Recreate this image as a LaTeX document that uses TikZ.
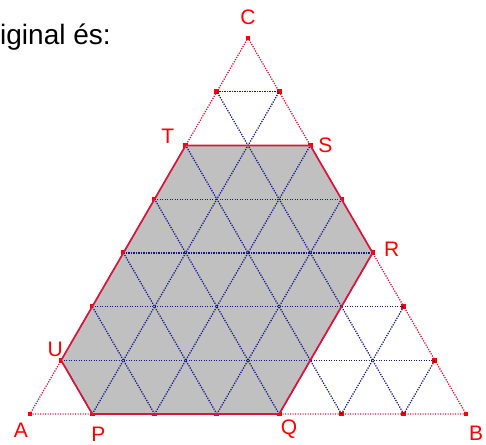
\documentclass[tikz,border=0pt]{standalone}
\usepackage{fontspec}
\setmainfont{Liberation Sans}
\usepackage{xcolor}
\usetikzlibrary{positioning,calc}
\definecolor{linered}{RGB}{220,20,60}
\definecolor{gridblue}{RGB}{20,20,140}
\definecolor{hexgray}{RGB}{192,192,192}
\begin{document}
\begin{tikzpicture}[x=1pt, y=1pt,
  lbl/.style={text=red, inner sep=0pt, font=\fontsize{21}{25}\selectfont},
  pt/.style={rectangle, fill=red, minimum size=4.8pt, inner sep=0pt},
  gridline/.style={gridblue, line width=1.3pt, dash pattern=on 1.2pt off 1.3pt},
  sideline/.style={linered, line width=1.3pt, dash pattern=on 1.2pt off 1.3pt}]
\useasboundingbox (0,0) rectangle (486,444);
% lattice points of the triangle, 7 steps per side
\foreach \j in {0,...,7}{
  \pgfmathtruncatemacro\m{7-\j}
  \foreach \i in {0,...,\m}{
    \coordinate (p\i-\j) at ({30+(\i+\j/2)*62.29},{30+\j*53.71});
  }
}
\coordinate (A) at (p0-0);
\coordinate (B) at (p7-0);
\coordinate (C) at (p0-7);
\coordinate (P) at (p1-0);
\coordinate (Q) at (p4-0);
\coordinate (R) at (p4-3);
\coordinate (S) at (p2-5);
\coordinate (T) at (p0-5);
\coordinate (U) at (p0-1);
% big triangle
\draw[sideline] (A) -- (B) -- (C) -- cycle;
% points on the sides
\foreach \j in {0,...,7}{
  \pgfmathtruncatemacro\m{7-\j}
  \node[pt] (mL\j) at (p0-\j) {};
  \node[pt] (mR\j) at (p\m-\j) {};
}
\foreach \i in {1,...,6}
  \node[pt] (mB\i) at (p\i-0) {};
% hexagon
\fill[hexgray] (P) -- (Q) -- (R) -- (S) -- (T) -- (U) -- cycle;
% grid
\foreach \k in {1,...,6}{
  \pgfmathtruncatemacro\m{7-\k}
  \draw[gridline] (p0-\k) -- (p\m-\k);
  \draw[gridline] (p\k-0) -- (p0-\k);
  \draw[gridline] (p\k-0) -- (p\k-\m);
}
\draw[linered, line width=1.7pt, line join=round] (P) -- (Q) -- (R) -- (S) -- (T) -- (U) -- cycle;
% labels
\path (A) ++(-9,-16) node[lbl] (labA) {A};
\path (B) ++(10,-19) node[lbl] (labB) {B};
\path (C) ++(0,21) node[lbl] (labC) {C};
\path (P) ++(6,-20) node[lbl] (labP) {P};
\path (Q) ++(10,-15) node[lbl] (labQ) {Q};
\path (R) ++(19,4) node[lbl] (labR) {R};
\path (S) ++(15,0) node[lbl] (labS) {S};
\path (T) ++(-18,9) node[lbl] (labT) {T};
\path (U) ++(-6,11) node[lbl] (labU) {U};
\node[anchor=base west, inner sep=0pt, font=\fontsize{28}{32}\selectfont] (title) at (0,399) {iginal és:};
\end{tikzpicture}
\end{document}
